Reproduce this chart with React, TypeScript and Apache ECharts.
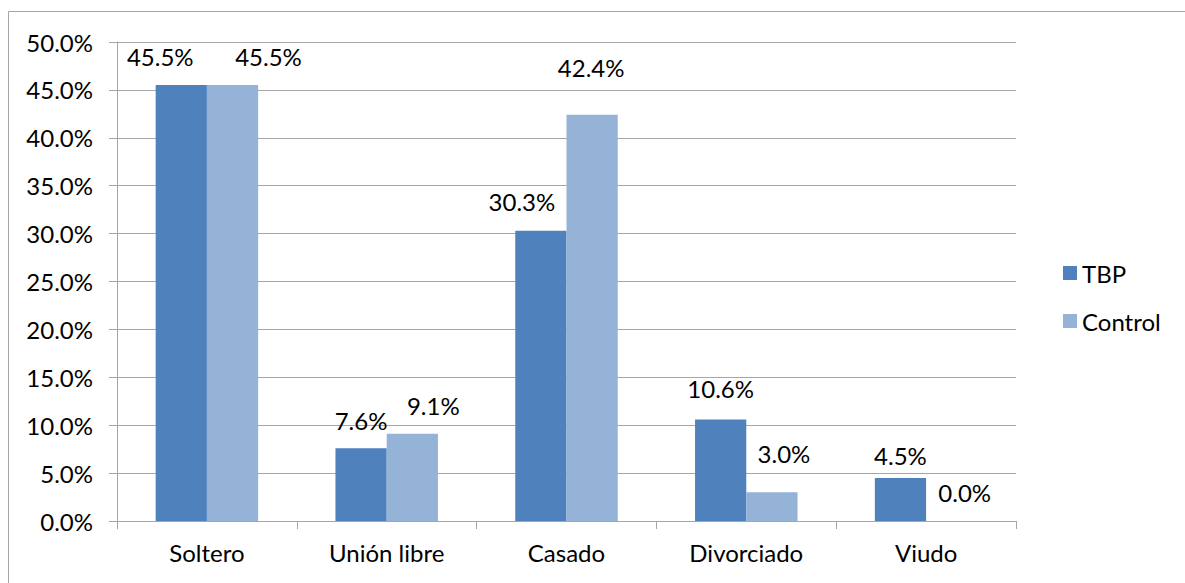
import React, { useEffect, useRef } from "react";
import * as echarts from "echarts";

const categories = ["Soltero", "Unión libre", "Casado", "Divorciado", "Viudo"];
const tbpValues = [45.5, 7.6, 30.3, 10.6, 4.5];
const controlValues = [45.5, 9.1, 42.4, 3.0, 0.0];
const seriesNames = ["TBP", "Control"];

// per-label nudges [dx, dy] for the value labels above the bars
const tbpLabelOffsets = [[-21, -17], [0, -16], [-19, -17], [0, -19], [0, -10]];
const controlLabelOffsets = [[36, -17], [21, -16], [-1, -35], [12, -27], [13, -17]];

const FONT = "Lato";
const FONT_SIZE = 24;
const GRID = "#a6a6a6";

export default function App() {
  const ref = useRef<HTMLDivElement>(null);
  useEffect(() => {
    if (!ref.current) return;
    const chart = echarts.init(ref.current, null, { renderer: "svg" });
    const mk = (vals: number[], offs: number[][]) =>
      vals.map((v, i) => ({ value: v, label: { offset: offs[i] } }));
    const valueLabel = {
      show: true,
      position: "top",
      distance: 0,
      fontFamily: FONT,
      fontSize: FONT_SIZE,
      color: "#000",
      formatter: (p: any) => Number(p.value).toFixed(1) + "%",
    };
    chart.setOption({
      animation: false,
      textStyle: { fontFamily: FONT, color: "#000" },
      graphic: [
        {
          type: "rect",
          shape: { x: 8.5, y: 11.5, width: 1300, height: 700 },
          style: { fill: "none", stroke: GRID, lineWidth: 1 },
          silent: true,
        },
      ],
      grid: { left: 117, right: 169, top: 42, bottom: 62, containLabel: false },
      legend: {
        orient: "vertical",
        left: 1058,
        top: 256,
        itemWidth: 14,
        itemHeight: 14,
        itemGap: 24,
        icon: "rect",
        textStyle: { fontFamily: FONT, fontSize: FONT_SIZE, color: "#000" },
        data: seriesNames,
      },
      xAxis: {
        type: "category",
        data: categories,
        axisLine: { lineStyle: { color: GRID, width: 1 } },
        axisTick: { show: true, length: 8, lineStyle: { color: GRID } },
        axisLabel: { fontFamily: FONT, fontSize: FONT_SIZE, color: "#000", margin: 19 },
      },
      yAxis: {
        type: "value",
        min: 0,
        max: 50,
        interval: 5,
        axisLine: { show: true, lineStyle: { color: GRID, width: 1 } },
        axisTick: { show: true, length: 8, lineStyle: { color: GRID } },
        splitLine: { lineStyle: { color: GRID, width: 1 } },
        axisLabel: {
          fontFamily: FONT,
          fontSize: FONT_SIZE,
          color: "#000",
          margin: 24,
          formatter: (v: number) => v.toFixed(1) + "%",
        },
      },
      series: [
        {
          name: seriesNames[0],
          type: "bar",
          data: mk(tbpValues, tbpLabelOffsets),
          itemStyle: { color: "#4f81bd" },
          barGap: "0%",
          barCategoryGap: "43%",
          label: valueLabel,
        },
        {
          name: seriesNames[1],
          type: "bar",
          data: mk(controlValues, controlLabelOffsets),
          itemStyle: { color: "#95b3d7" },
          barGap: "0%",
          barCategoryGap: "43%",
          label: valueLabel,
        },
      ],
    });
    return () => chart.dispose();
  }, []);
  return (
    <div
      ref={ref}
      style={{ position: "absolute", left: 0, top: 0, width: 1185, height: 583, background: "#fff" }}
    />
  );
}
